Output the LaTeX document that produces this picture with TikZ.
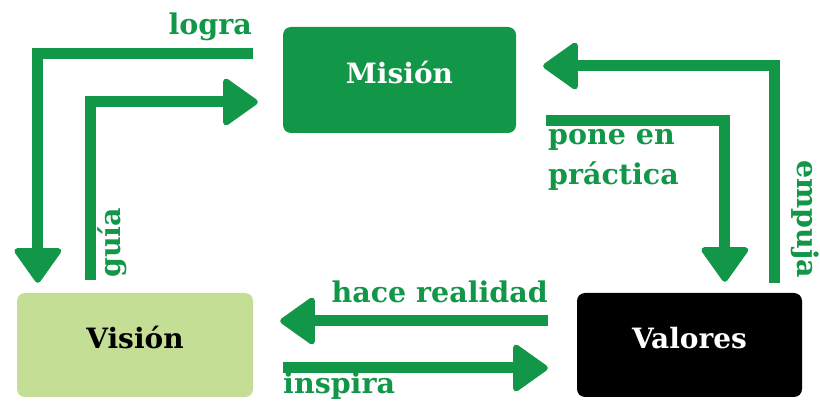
\documentclass[tikz,border=0pt]{standalone}
\usepackage{fontspec}
\setmainfont{DejaVu Serif}
\usetikzlibrary{arrows.meta}
\definecolor{vgreen}{RGB}{18,150,72}
\definecolor{lgreen}{RGB}{196,222,150}
\begin{document}
\begin{tikzpicture}[x=1pt,y=-1pt,
  box/.style={rounded corners=8pt, inner sep=0pt, text height=20pt, text depth=13pt, font=\bfseries\fontsize{28}{32}\selectfont},
  conn/.style={line width=11pt, draw=vgreen, -{Triangle[length=37pt,width=51pt,round,line width=6pt]}},
  lbl/.style={text=vgreen, inner sep=0pt, font=\bfseries\fontsize{28.5}{40}\selectfont}]
\useasboundingbox (0,0) rectangle (820,403);
\node[box, fill=vgreen, text=white, minimum width=233pt, minimum height=106pt] (mision) at (399.5,80) {Misión};
\node[box, fill=lgreen, text=black, minimum width=236pt, minimum height=104pt] (vision) at (135,345) {Visión};
\node[box, fill=black, text=white, minimum width=225pt, minimum height=104pt] (valores) at (689.5,345) {Valores};
% connectors
\coordinate (lograS) at ([xshift=-30pt,yshift=26.5pt]mision.west);
\coordinate (lograE) at ([xshift=21pt,yshift=10pt]vision.north west);
\draw[conn] (lograS) -| (lograE);
\coordinate (guiaS) at ([xshift=74pt,yshift=13pt]vision.north west);
\coordinate (guiaE) at ([xshift=-25pt,yshift=-22pt]mision.west);
\draw[conn] (guiaS) |- (guiaE);
\coordinate (empS) at ([xshift=-28pt,yshift=10pt]valores.north east);
\coordinate (empE) at ([xshift=27pt,yshift=14pt]mision.east);
\draw[conn] (empS) |- (empE);
\coordinate (poneS) at ([xshift=30pt,yshift=13pt]mision.south east);
\coordinate (poneE) at ([xshift=148pt,yshift=11pt]valores.north west);
\draw[conn] (poneS) -| (poneE);
\coordinate (haceS) at ([xshift=-29pt,yshift=24pt]valores.west);
\coordinate (haceE) at ([xshift=27pt,yshift=24pt]vision.east);
\draw[conn] (haceS) -- (haceE);
\coordinate (inspS) at ([xshift=30pt,yshift=-23pt]vision.east);
\coordinate (inspE) at ([xshift=-29pt,yshift=-23pt]valores.west);
\draw[conn] (inspS) -- (inspE);
% labels
\node[lbl, anchor=base east] (tlogra) at (252,35) {logra};
\node[lbl, anchor=base west, rotate=90] (tguia) at (120,278) {guía};
\node[lbl, anchor=base west, rotate=-90] (tempuja) at (797,160) {empuja};
\node[lbl, anchor=base west, align=left] (tpone) at (548,185) {pone en\\práctica};
\node[lbl, anchor=base east] (thace) at (548,303) {hace realidad};
\node[lbl, anchor=base west] (tinsp) at (283,394) {inspira};
\end{tikzpicture}
\end{document}
